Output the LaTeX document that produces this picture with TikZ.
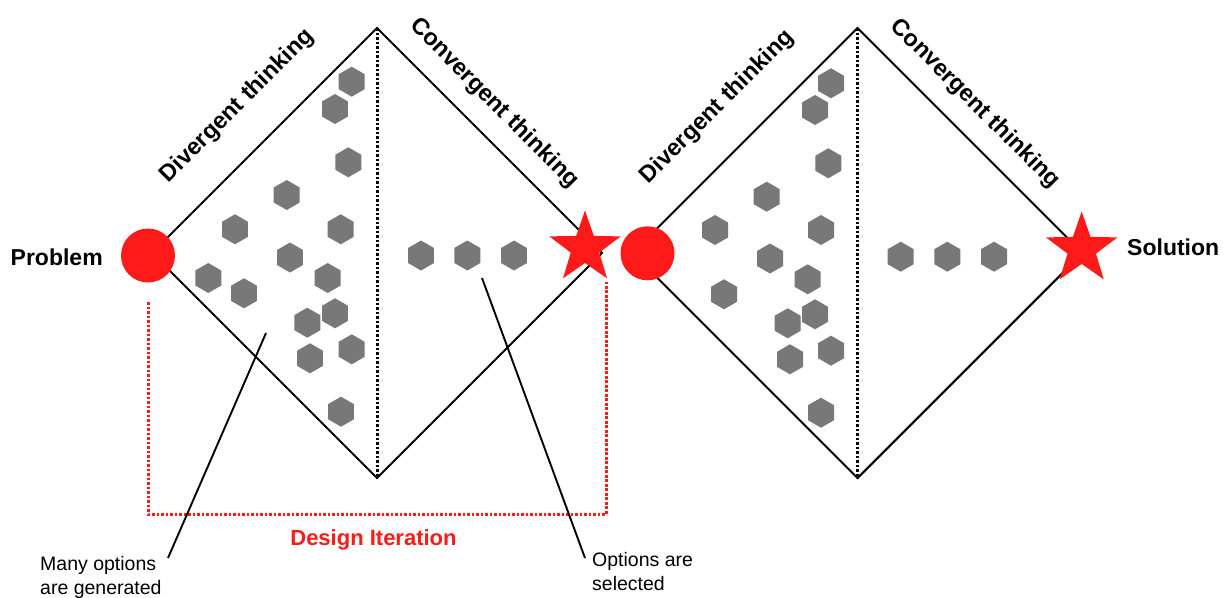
\documentclass[tikz,border=0pt]{standalone}
\usepackage{fontspec}
\setmainfont{Liberation Sans}
\usetikzlibrary{shapes.geometric}
\definecolor{dtred}{RGB}{255,26,26}
\definecolor{hexgray}{RGB}{120,120,120}

\begin{document}
\begin{tikzpicture}[x=1pt,y=-1pt,
  edge/.style={line width=2.1pt, black, line join=miter},
  midline/.style={line width=3pt, dash pattern=on 2.6pt off 1.9pt, black},
  loopline/.style={line width=3pt, dash pattern=on 2.6pt off 1.9pt, dtred},
  hexa/.style={regular polygon, regular polygon sides=6, shape border rotate=30,
    fill=hexgray, minimum size=30pt, inner sep=0pt},
  startdot/.style={circle, fill=dtred, minimum size=54pt, inner sep=0pt},
  endstar/.style={star, star points=5, star point ratio=2.5, fill=dtred,
    minimum size=75pt, inner sep=0pt},
  phase/.style={font=\bfseries\fontsize{23.5}{28}\selectfont, inner sep=0pt},
  endlabel/.style={font=\bfseries\fontsize{23}{28}\selectfont, inner sep=0pt, anchor=base west},
  note/.style={font=\fontsize{19.5}{24}\selectfont, align=left, inner sep=0pt, anchor=north west},
  callout/.style={line width=1.9pt, black}
]
\useasboundingbox (0,0) rectangle (1223,597);

% corners of the two diamonds
\coordinate (L1) at (152,253);
\coordinate (T1) at (377,28);
\coordinate (R1) at (602,253);
\coordinate (B1) at (377,478);
\coordinate (L2) at (632.5,253);
\coordinate (T2) at (857.5,28);
\coordinate (R2) at (1082.5,253);
\coordinate (B2) at (857.5,478);

\draw[edge] (L1) -- (T1) -- (R1) -- (B1) -- cycle;
\draw[edge] (L2) -- (T2) -- (R2) -- (B2) -- cycle;
\draw[midline] (T1) -- (B1);
\draw[midline] (T2) -- (B2);

% options generated in the first diamond
\foreach \x/\y [count=\i] in {351.7/81.7, 335/109, 348.3/162.3, 286.7/195, 235/229.3,
  340.7/229.3, 290/257.5, 208.3/278, 327.7/278, 244/293.3, 335/313.3, 307.3/322.7,
  351.7/349.3, 310/358.3, 341/411.7}
  \node[hexa] (ga\i) at (\x,\y) {};
\foreach \x/\y [count=\i] in {421/255.5, 467.3/255.5, 514/255.5}
  \node[hexa] (sa\i) at (\x,\y) {};

% options generated in the second diamond
\foreach \x/\y [count=\i] in {831/83.3, 815/110, 828.3/163.3, 766.7/196.7, 715/230,
  821/230, 770/258.5, 807.7/279.3, 724/294.3, 815/314.3, 787.7/323.3, 831/350.7,
  790/359.3, 821/412.7}
  \node[hexa] (gb\i) at (\x,\y) {};
\foreach \x/\y [count=\i] in {900.7/256.7, 947.3/256.7, 994/256.7}
  \node[hexa] (sb\i) at (\x,\y) {};

% design iteration loop
\coordinate (I1) at (148,302);
\coordinate (I2) at (148,514);
\coordinate (I3) at (606,514);
\coordinate (I4) at (606,282);
\draw[loopline] (I1) -- (I2) -- (I3) -- (I4);

% start and end markers
\node[startdot] (p1) at (148,255.5) {};
\node[endstar] (s1) at (585,248) {};
\node[startdot] (p2) at (647.5,253.3) {};
\node[endstar] (s2) at (1081.7,249) {};

% phase labels
\node[phase, rotate=45] (div1) at (237.5,106) {Divergent thinking};
\node[phase, rotate=-45] (con1) at (494.2,103.3) {Convergent thinking};
\node[phase, rotate=45] (div2) at (717.5,107) {Divergent thinking};
\node[phase, rotate=-45] (con2) at (975,104) {Convergent thinking};

\node[endlabel] (prob) at (10.5,265) {Problem};
\node[endlabel] (sol) at (1127,255) {Solution};
\node[font=\bfseries\fontsize{22}{26}\selectfont, text=dtred, anchor=base, inner sep=0pt]
  (iter) at (373.5,545) {Design Iteration};

% callouts
\node[note] (gen) at (40,556) {Many options\\are generated};
\node[note] (sel) at (592,552) {Options are\\selected};
\coordinate (g1) at (266,333);
\coordinate (g2) at (168,558);
\coordinate (c1) at (482,278);
\coordinate (c2) at (585,558);
\draw[callout] (g1) -- (g2);
\draw[callout] (c1) -- (c2);
\end{tikzpicture}
\end{document}
